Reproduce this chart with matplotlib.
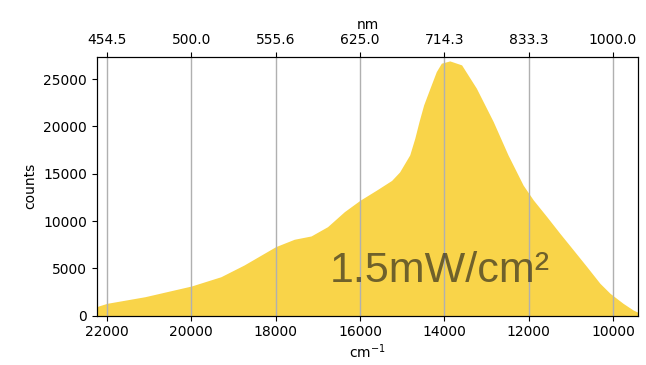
import matplotlib
matplotlib.use('Agg')
from matplotlib import pyplot as plt
import numpy as np

# spectrum (wavenumber cm^-1, counts)
wavenumber = [22240, 22200, 22000, 21100, 20000, 19300, 18750, 18000, 17560,
              17160, 16770, 16370, 16000, 15600, 15250, 15060, 14820, 14700,
              14600, 14490, 14340, 14190, 14070, 13870, 13590, 13240, 12840,
              12490, 12130, 11890, 11570, 11260, 10940, 10620, 10310, 10070,
              9760, 9520, 9400]
counts = [950, 1030, 1310, 2010, 3140, 4120, 5360, 7300, 8080,
          8430, 9410, 11000, 12200, 13300, 14300, 15200, 17000, 18760,
          20520, 22280, 24050, 25800, 26690, 26930, 26510, 24050, 20520,
          17000, 13800, 12240, 10470, 8710, 6950, 5180, 3430, 2370,
          1310, 600, 350]
xticks = [22000, 20000, 18000, 16000, 14000, 12000, 10000]
label = '1.5mW/cm²'

fig = plt.figure(figsize=(6.46, 3.65), dpi=100)
ax = fig.add_axes([0.150, 0.135, 0.838, 0.709])

ax.fill_between(wavenumber, counts, 0, color='#f9d449', lw=0)
ax.set_xlim(22240, 9400)
ax.set_ylim(0, 27350)
ax.set_xticks(xticks)
ax.grid(axis='x', color='#b0b0b0', lw=1)
ax.set_xlabel('cm$^{-1}$', labelpad=2)
ax.set_ylabel('counts')

top = ax.twiny()
top.set_xlim(ax.get_xlim())
top.set_xticks(xticks)
top.set_xticklabels(['%.1f' % (1e7 / x) for x in xticks])
top.set_xlabel('nm', labelpad=3)

ax.text(14110, 3600, label, ha='center', va='baseline',
        fontsize=31, family=['Liberation Sans', 'DejaVu Sans'],
        color='#1a1a1a', alpha=0.62)

fig.savefig('out.png', dpi=100)
